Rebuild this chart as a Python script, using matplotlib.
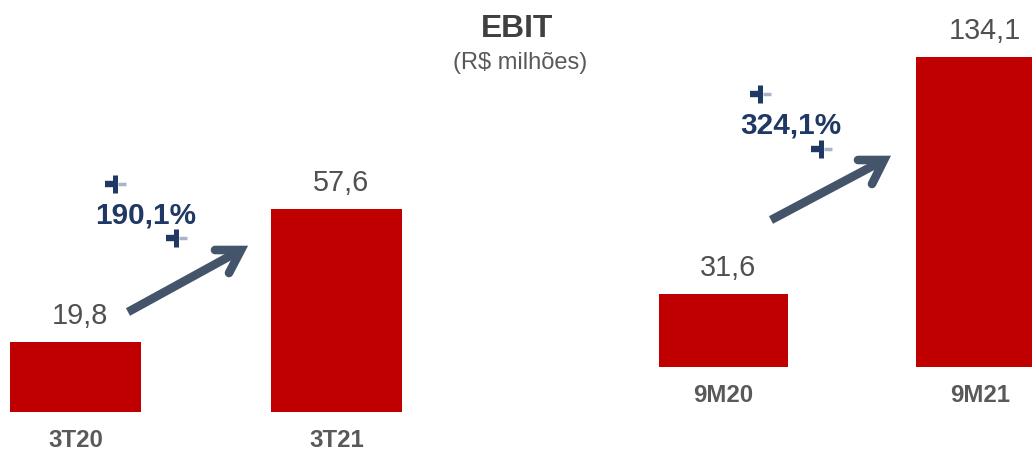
import matplotlib
matplotlib.use("Agg")
import matplotlib.pyplot as plt

plt.rcParams['font.family'] = ['Liberation Sans', 'DejaVu Sans']

W, H = 1032, 450

# data
periods_q = ["3T20", "3T21"]
values_q = [19.8, 57.6]
periods_9m = ["9M20", "9M21"]
values_9m = [31.6, 134.1]
growth_q = "190,1%"
growth_9m = "324,1%"

RED = "#C00000"
GRAY = "#595959"
DARK = "#505050"
NAVY = "#1F3864"
SLATE = "#44546A"


def fmt(v):
    return f"{v:.1f}".replace(".", ",")


def px_axes(fig, left, right, top, bottom):
    # axes placed by pixel edges, y measured from the top of the image
    return fig.add_axes([left / W, 1 - bottom / H, (right - left) / W, (bottom - top) / H])


def draw_bars(ax, labels, values, width, xlim, ymax, label_gap):
    ax.bar(range(len(values)), values, width=width, color=RED)
    ax.set_xlim(*xlim)
    ax.set_ylim(0, ymax)
    ax.axis('off')
    for i, v in enumerate(values):
        ax.annotate(fmt(v), (i, v), xytext=(3, 8.5), textcoords='offset points',
                    ha='center', va='bottom', fontsize=20.8, color=DARK)
        ax.annotate(labels[i], (i, 0), xytext=(0, -label_gap), textcoords='offset points',
                    ha='center', va='top', fontsize=17.3, fontweight='bold', color=GRAY)


fig = plt.figure(figsize=(W / 100, H / 100), dpi=100)

# left pair: centres 75.5 / 336.5, baseline at y=412
ax1 = px_axes(fig, 0, 516, 0, 412)
draw_bars(ax1, periods_q, values_q, 131 / 261,
          (-75.5 / 261, (516 - 75.5) / 261), 412 / 3.53, 12)

# right pair: centres 723.5 / 980.5, baseline at y=367
ax2 = px_axes(fig, 516, W, 0, 367)
draw_bars(ax2, periods_9m, values_9m, 129 / 257,
          ((516 - 723.5) / 257, (W - 723.5) / 257), 367 / 2.31, 12.5)

# overlay in image pixels for the title, arrows and callouts
ov = fig.add_axes([0, 0, 1, 1], zorder=5)
ov.set_xlim(0, W)
ov.set_ylim(H, 0)
ov.axis('off')
ov.patch.set_alpha(0)

ov.text(517, 29, "EBIT", ha='center', va='center', fontsize=22.9, fontweight='bold', color="#404040")
ov.text(520.5, 63, "(R$ milhões)", ha='center', va='center', fontsize=17, color=GRAY)


def arrow(start, tip, barb_a, barb_b):
    ov.plot([start[0], tip[0]], [start[1], tip[1]], color=SLATE, lw=6.2, solid_capstyle='butt')
    ov.plot([barb_a[0], tip[0], barb_b[0]], [barb_a[1], tip[1], barb_b[1]], color=SLATE,
            lw=6.2, solid_capstyle='round', solid_joinstyle='miter')


arrow((128, 312), (241, 250), (215, 250), (229, 273))
arrow((771, 220), (884, 160), (858, 160), (872, 184))

ov.text(145.5, 216, growth_q, ha='center', va='center', fontsize=21.4, fontweight='bold', color=NAVY)
ov.text(790.5, 126, growth_9m, ha='center', va='center', fontsize=21.4, fontweight='bold', color=NAVY)


def plus(x, y):
    ov.plot([x - 10, x + 3], [y, y], color=NAVY, lw=4.6, solid_capstyle='butt')
    ov.plot([x + 3, x + 11], [y, y], color="#A9B4C8", lw=2.5, solid_capstyle='butt')
    ov.plot([x, x], [y - 9, y + 9], color=NAVY, lw=3.6, solid_capstyle='butt')


for x, y in [(115, 184), (176, 238), (760, 94), (821, 149)]:
    plus(x, y)

fig.savefig("out.png", dpi=100)
